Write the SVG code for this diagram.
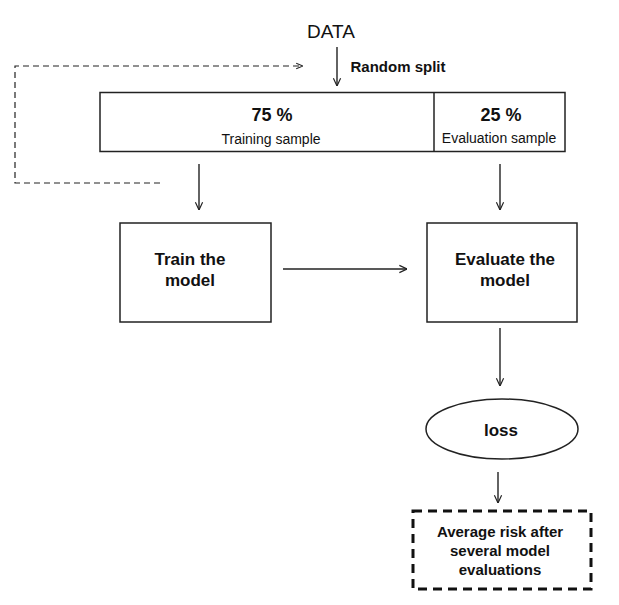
<svg xmlns="http://www.w3.org/2000/svg" width="619" height="605" viewBox="0 0 619 605">
<defs>
<style>
.box{fill:#fff;stroke:#222;stroke-width:1.5}
.conn{fill:none;stroke:#222;stroke-width:1.4}
.dash{fill:none;stroke:#222;stroke-width:1.2;stroke-dasharray:6 4}
.t{font-family:"Liberation Sans",Arial,sans-serif;fill:#111;text-anchor:middle}
.b{font-weight:bold}
</style>
<marker id="arr" markerUnits="userSpaceOnUse" viewBox="0 0 10 10" refX="9.5" refY="5" markerWidth="9" markerHeight="10" orient="auto">
<path d="M1,1 L9.5,5 L1,9" fill="none" stroke="#222" stroke-width="1.3"/>
</marker>
<marker id="arrs" markerUnits="userSpaceOnUse" viewBox="0 0 10 10" refX="9.5" refY="5" markerWidth="8" markerHeight="8" orient="auto">
<path d="M1,1.5 L9.5,5 L1,8.5" fill="none" stroke="#222" stroke-width="1.3"/>
</marker>
</defs>
<rect width="619" height="605" fill="#fff"/>

<g id="connectors">
<line class="conn" x1="337" y1="47" x2="337" y2="86" marker-end="url(#arr)"/>
<line class="conn" x1="199" y1="164" x2="199" y2="210" marker-end="url(#arr)"/>
<line class="conn" x1="500" y1="164" x2="500" y2="210" marker-end="url(#arr)"/>
<line class="conn" x1="283" y1="269" x2="407" y2="269" marker-end="url(#arr)"/>
<line class="conn" x1="500" y1="328" x2="500" y2="386" marker-end="url(#arr)"/>
<line class="conn" x1="498" y1="472" x2="498" y2="503" marker-end="url(#arr)"/>
<polyline class="dash" points="160,183 15,183 15,66 303,66" marker-end="url(#arrs)"/>
</g>

<g id="data">
<text class="t" x="331" y="38" font-size="19">DATA</text>
</g>
<g id="random-split">
<text class="t b" x="398" y="72" font-size="14.5" textLength="95" lengthAdjust="spacingAndGlyphs">Random split</text>
</g>

<g id="split">
<rect class="box" x="100" y="92.5" width="465" height="59"/>
<line class="box" x1="434" y1="92.5" x2="434" y2="151.5"/>
<text class="t b" x="272" y="121" font-size="18">75 %</text>
<text class="t" x="271" y="144" font-size="14">Training sample</text>
<text class="t b" x="501" y="121" font-size="18">25 %</text>
<text class="t" x="499" y="143" font-size="14">Evaluation sample</text>
</g>

<g id="train">
<rect class="box" x="120" y="223" width="151" height="99"/>
<text class="t b" x="190" y="265" font-size="17">Train the</text>
<text class="t b" x="190" y="286" font-size="17">model</text>
</g>

<g id="evaluate">
<rect class="box" x="427" y="223" width="150" height="99"/>
<text class="t b" x="505" y="265" font-size="17">Evaluate the</text>
<text class="t b" x="505" y="286" font-size="17">model</text>
</g>

<g id="loss">
<ellipse class="box" cx="502" cy="429" rx="76" ry="30"/>
<text class="t b" x="501" y="436" font-size="17">loss</text>
</g>

<g id="average-risk">
<rect x="413" y="511" width="178" height="78" fill="#fff" stroke="#111" stroke-width="3" stroke-dasharray="9 6"/>
<text class="t b" x="500" y="537" font-size="15">Average risk after</text>
<text class="t b" x="500" y="556" font-size="15">several model</text>
<text class="t b" x="500" y="575" font-size="15">evaluations</text>
</g>
</svg>
